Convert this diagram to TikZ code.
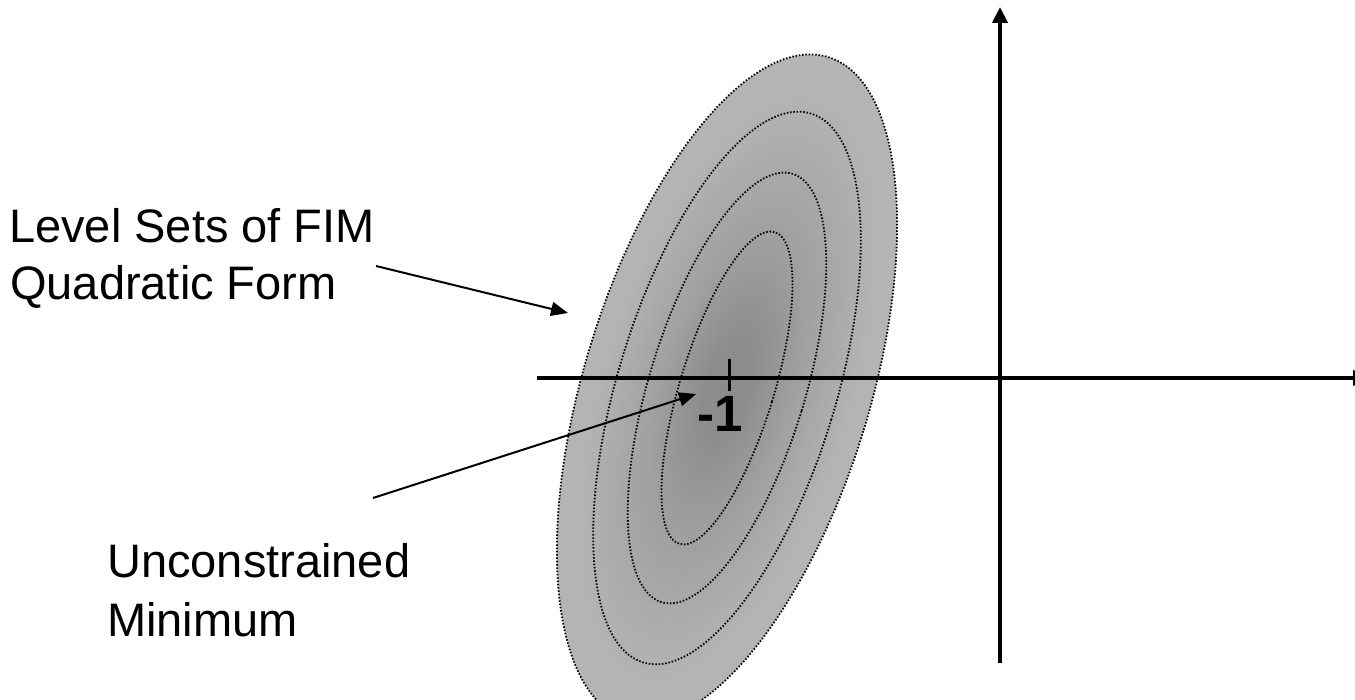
\documentclass[tikz,border=0pt]{standalone}
\usepackage{fontspec}
\setmainfont{Liberation Sans}
\usetikzlibrary{arrows.meta}
\definecolor{clight}{RGB}{180,180,180}
\definecolor{cdark}{RGB}{138,138,138}
\pgfdeclareradialshading{fimshade}{\pgfpoint{0bp}{0bp}}{color(0bp)=(cdark); color(4bp)=(cdark!92!clight); color(11bp)=(cdark!50!clight); color(22bp)=(clight); color(50bp)=(clight)}
\tikzset{
  level/.style={line width=1.8pt, dash pattern=on 1.5pt off 1.8pt, black},
  axisline/.style={line width=4pt, -{Triangle[length=16pt,width=15pt]}},
  callout/.style={line width=2pt, -{Triangle[length=17pt,width=14pt]}},
  lbl/.style={font=\fontsize{47}{57}\selectfont, inner sep=0pt, anchor=base west},
}
\begin{document}
\begin{tikzpicture}[x=1pt,y=1pt]
\useasboundingbox (0,0) rectangle (1355,700);
\clip (0,0) rectangle (1355,700);
\begin{scope}[transform canvas={shift={(727,312)},rotate=-17}]
  \shade[shading=fimshade] (0,0) ellipse [x radius=143, y radius=346];
  \draw[level] (0,0) ellipse [x radius=143, y radius=346];
  \draw[level] (0,0) ellipse [x radius=109, y radius=287];
  \draw[level] (0,0) ellipse [x radius=78, y radius=224];
  \draw[level] (0,0) ellipse [x radius=47, y radius=163];
\end{scope}
\coordinate (xs) at (537,322);
\coordinate (xe) at (1369,322);
\coordinate (ys) at (1000,37);
\coordinate (ye) at (1000,693);
\draw[axisline] (xs) -- (xe);
\draw[axisline] (ys) -- (ye);
\coordinate (tt) at (729,341);
\coordinate (tb) at (729,309);
\draw[line width=3pt] (tt) -- (tb);
\node[font=\fontsize{51}{57}\selectfont\bfseries, inner sep=0pt, anchor=base] (m1) at (720,268) {-1};
\node[lbl] (l1) at (9,457) {Level Sets of FIM};
\node[lbl] (l2) at (10,400) {Quadratic Form};
\node[lbl] (u1) at (107,122) {Unconstrained};
\node[lbl] (u2) at (107,63) {Minimum};
\coordinate (a1s) at (376,434);
\coordinate (a1e) at (568,387);
\coordinate (a2s) at (373,202);
\coordinate (a2e) at (696,306);
\draw[callout] (a1s) -- (a1e);
\draw[callout] (a2s) -- (a2e);
\end{tikzpicture}
\end{document}
